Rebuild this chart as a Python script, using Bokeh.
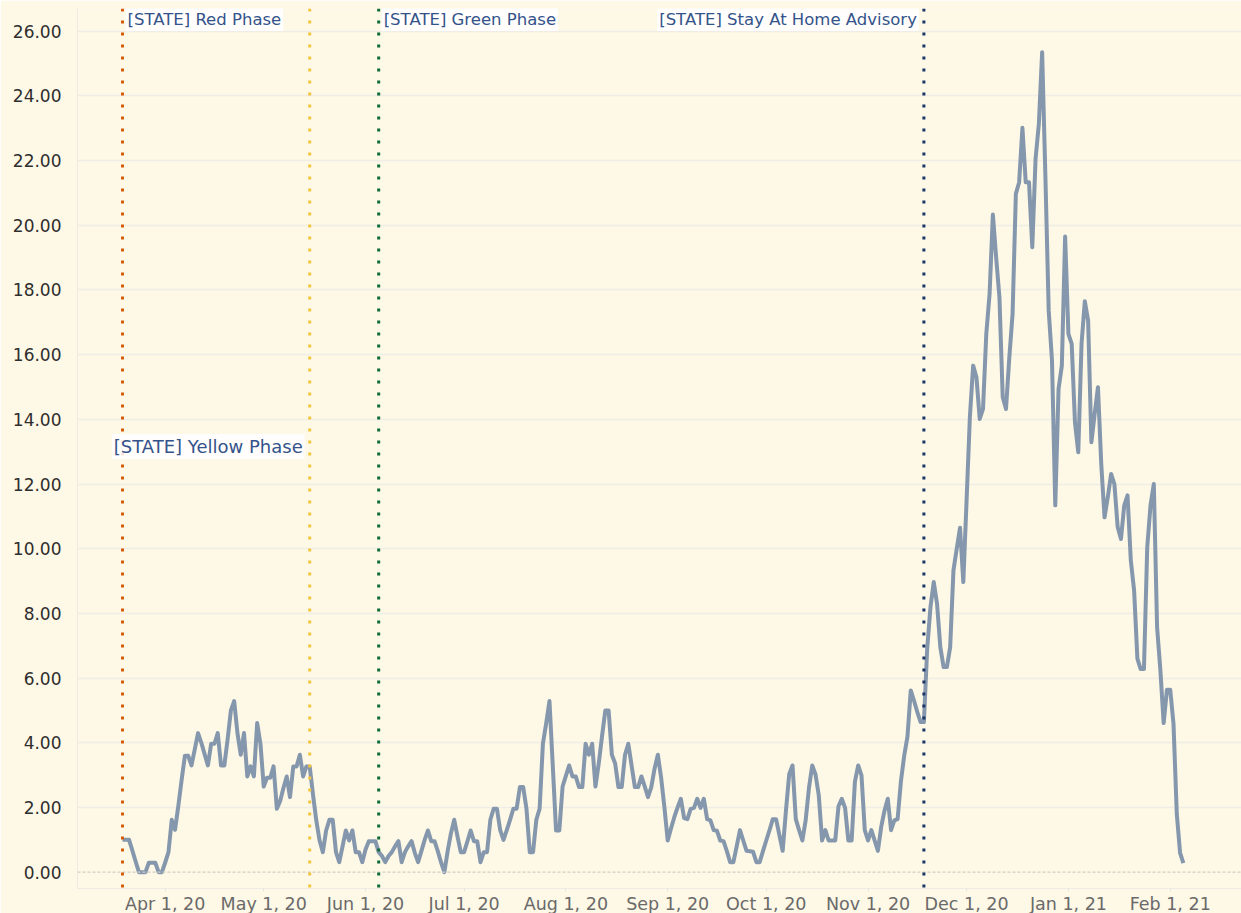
import pandas as pd
from bokeh.plotting import figure
from bokeh.models import Span, Label, Range1d, FixedTicker, NumeralTickFormatter
from bokeh.embed import file_html
from bokeh.resources import INLINE

# ---------------- data ----------------
start_date = "2020-03-19"
avg_cases = [
    1.0, 1.0, 1.0, 0.67, 0.33, 0.0, 0.0, 0.0, 0.29, 0.29,
    0.29, 0.0, 0.0, 0.3, 0.62, 1.62, 1.31, 2.05, 2.85, 3.6,
    3.6, 3.3, 3.8, 4.3, 4.0, 3.65, 3.3, 3.97, 3.97, 4.3,
    3.3, 3.3, 4.1, 5.0, 5.29, 4.3, 3.63, 4.3, 2.96, 3.27,
    2.96, 4.61, 3.97, 2.65, 2.92, 2.92, 3.27, 1.96, 2.2, 2.6,
    2.96, 2.32, 3.27, 3.27, 3.63, 2.96, 3.27, 3.27, 2.4, 1.6,
    0.98, 0.62, 1.29, 1.62, 1.62, 0.62, 0.31, 0.8, 1.29, 0.98,
    1.29, 0.62, 0.62, 0.31, 0.7, 0.96, 0.96, 0.96, 0.62, 0.5,
    0.31, 0.5, 0.62, 0.8, 0.96, 0.31, 0.62, 0.8, 0.96, 0.6,
    0.31, 0.65, 1.0, 1.29, 0.96, 0.96, 0.65, 0.3, 0.0, 0.65,
    1.2, 1.62, 1.1, 0.62, 0.62, 0.95, 1.29, 0.96, 0.96, 0.31,
    0.62, 0.62, 1.62, 1.96, 1.96, 1.3, 1.0, 1.3, 1.62, 1.96,
    1.96, 2.63, 2.63, 1.96, 0.62, 0.62, 1.62, 1.96, 3.97, 4.6,
    5.29, 3.3, 1.29, 1.29, 2.65, 2.98, 3.3, 2.96, 2.96, 2.63,
    2.63, 3.97, 3.63, 3.97, 2.65, 3.36, 4.2, 5.0, 5.0, 3.63,
    3.36, 2.63, 2.63, 3.63, 3.97, 3.3, 2.63, 2.63, 2.96, 2.65,
    2.32, 2.63, 3.2, 3.63, 2.92, 2.0, 0.98, 1.35, 1.7, 2.0,
    2.27, 1.67, 1.64, 1.96, 1.99, 2.27, 1.99, 2.27, 1.64, 1.6,
    1.3, 1.28, 0.98, 0.96, 0.65, 0.31, 0.31, 0.8, 1.3, 0.98,
    0.66, 0.65, 0.63, 0.31, 0.31, 0.65, 0.98, 1.3, 1.64, 1.64,
    1.15, 0.66, 1.9, 3.04, 3.3, 1.64, 1.3, 0.98, 1.6, 2.6,
    3.3, 3.02, 2.37, 0.98, 1.3, 0.98, 0.98, 0.98, 2.04, 2.27,
    1.99, 0.98, 0.98, 2.8, 3.3, 2.99, 1.3, 0.98, 1.3, 0.98,
    0.66, 1.4, 1.9, 2.27, 1.3, 1.6, 1.64, 2.8, 3.6, 4.19,
    5.62, 5.3, 4.95, 4.64, 4.64, 6.9, 8.19, 8.97, 8.3, 6.96,
    6.34, 6.34, 6.96, 9.33, 10.0, 10.65, 8.97, 11.5, 14.07, 15.66,
    15.3, 14.01, 14.32, 16.64, 17.88, 20.33, 19.0, 17.77, 14.68, 14.32,
    15.9, 17.26, 20.97, 21.33, 23.01, 21.33, 21.33, 19.32, 22.05, 23.13,
    25.35, 21.48, 17.36, 15.82, 11.34, 14.94, 15.66, 19.65, 16.64, 16.33,
    13.9, 12.98, 16.33, 17.65, 17.05, 13.29, 14.17, 14.99, 12.62, 10.97,
    11.6, 12.31, 12.0, 10.67, 10.3, 11.34, 11.65, 9.64, 8.71, 6.6,
    6.28, 6.28, 10.05, 11.34, 12.0, 7.57, 6.25, 4.61, 5.64, 5.64,
    4.58, 1.8, 0.6, 0.28,
]

phase_names = ["[STATE] Red Phase", "[STATE] Yellow Phase",
               "[STATE] Green Phase", "[STATE] Stay At Home Advisory"]
phase_dates = ["2020-03-19", "2020-05-15", "2020-06-05", "2020-11-18"]
phase_colors = ["#D65A0C", "#F2C53D", "#0C6B38", "#1A3566"]

tick_dates = ["2020-04-01", "2020-05-01", "2020-06-01", "2020-07-01", "2020-08-01",
              "2020-09-01", "2020-10-01", "2020-11-01", "2020-12-01", "2021-01-01",
              "2021-02-01"]
tick_labels = ["Apr 1, 20", "May 1, 20", "Jun 1, 20", "Jul 1, 20", "Aug 1, 20",
               "Sep 1, 20", "Oct 1, 20", "Nov 1, 20", "Dec 1, 20", "Jan 1, 21",
               "Feb 1, 21"]
y_ticks = list(range(0, 27, 2))

# ---------------- helpers ----------------
DAY = 86400000.0


def ms(d):
    return pd.Timestamp(d).value / 1e6


dates = pd.date_range(start_date, periods=len(avg_cases), freq="D")
x_vals = [ms(d) for d in dates]

apr1 = ms("2020-04-01")
BG = "#FEF8E6"
FONT = "DejaVu Sans"

p = figure(
    frame_width=1164, frame_height=880,
    x_range=Range1d(apr1 - 26.7 * DAY, apr1 + 327.7 * DAY),
    y_range=Range1d(-0.504, 26.70),
    x_axis_type="datetime",
    output_backend="svg", toolbar_location=None,
    min_border_left=77, min_border_right=0, min_border_top=8, min_border_bottom=25,
    background_fill_color=BG, border_fill_color=BG,
)
p.outline_line_color = None

# grid
p.xgrid.visible = False
p.ygrid.ticker = FixedTicker(ticks=y_ticks[1:])
p.ygrid.grid_line_color = "#EFEDE6"
p.ygrid.grid_line_width = 1.5

# zero line
p.add_layout(Span(location=0, dimension="width", line_color="#CFCDC6",
                  line_dash="3 2", line_width=1.2))

# y axis
p.yaxis.ticker = FixedTicker(ticks=y_ticks)
p.yaxis.formatter = NumeralTickFormatter(format="0.00")
p.yaxis.major_label_text_font = FONT
p.yaxis.major_label_text_font_size = "17px"
p.yaxis.major_label_text_color = "#2E2E2E"
p.yaxis.major_tick_line_color = None
p.yaxis.minor_tick_line_color = None
p.yaxis.axis_line_color = "#EDEBE3"
p.yaxis.major_label_standoff = 10

# x axis
tick_ms = [ms(d) for d in tick_dates]
p.xaxis.ticker = FixedTicker(ticks=tick_ms)
p.xaxis.major_label_overrides = {t: lab for t, lab in zip(tick_ms, tick_labels)}
p.xaxis.major_label_text_font = FONT
p.xaxis.major_label_text_font_size = "17.5px"
p.xaxis.major_label_text_color = "#6A6A6A"
p.xaxis.major_tick_line_color = "#E6E4DC"
p.xaxis.major_tick_out = 3
p.xaxis.major_tick_in = 0
p.xaxis.minor_tick_line_color = None
p.xaxis.axis_line_color = "#EDEBE3"
p.xaxis.major_label_standoff = 2

# phase lines
for d, c in zip(phase_dates, phase_colors):
    p.add_layout(Span(location=ms(d), dimension="height", line_color=c,
                      line_width=3, line_dash="3 9"))

# data line
p.line(x_vals, avg_cases, line_color="#8597AD", line_width=4, line_join="round")

# labels
label_specs = [
    (0, 26.36, "left", 3, "16.5px"),
    (1, 13.16, "right", -5, "18px"),
    (2, 26.36, "left", 3, "16.5px"),
    (3, 26.36, "right", -5, "16.5px"),
]
for i, yv, align, off, fs in label_specs:
    p.add_layout(Label(
        x=ms(phase_dates[i]), y=yv, text=phase_names[i],
        text_align=align, text_baseline="middle", x_offset=off,
        text_font=FONT, text_font_size=fs, text_color="#34538A",
        background_fill_color="white", background_fill_alpha=0.85,
        padding=2,
    ))

open("out.html", "w").write(file_html(p, INLINE))
